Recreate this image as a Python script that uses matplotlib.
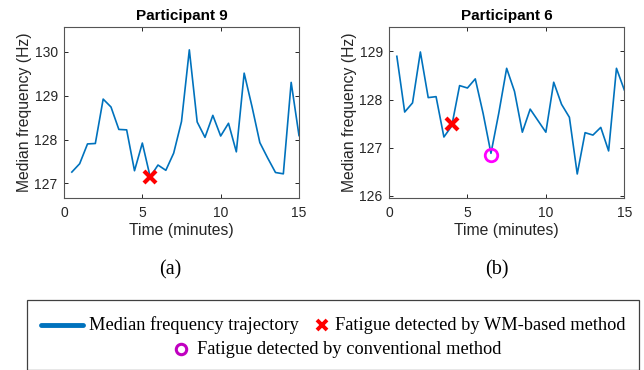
import matplotlib
matplotlib.use("Agg")
import matplotlib.pyplot as plt
from matplotlib.lines import Line2D
from matplotlib.patches import Rectangle

# time axis (minutes), one value every 30 s
time_min = [0.5 * i for i in range(1, 31)]

# Participant 9
p9_freq = [127.26, 127.45, 127.90, 127.91, 128.92, 128.74, 128.23, 128.22, 127.29, 127.92,
           127.15, 127.42, 127.30, 127.69, 128.41, 130.04, 128.40, 128.05, 128.55, 128.08,
           128.37, 127.72, 129.51, 128.75, 127.93, 127.58, 127.25, 127.22, 129.30, 128.09]
p9_wm_time = [5.5]
p9_wm_freq = [127.15]

# Participant 6
p6_freq = [128.90, 127.74, 127.93, 128.99, 128.04, 128.06, 127.22, 127.45, 128.29, 128.24,
           128.43, 127.71, 126.88, 127.72, 128.65, 128.17, 127.32, 127.80, 127.56, 127.32,
           128.36, 127.90, 127.63, 126.45, 127.31, 127.26, 127.42, 126.93, 128.65, 128.20]
p6_wm_time = [4.0]
p6_wm_freq = [127.50]
p6_conv_time = [6.5]
p6_conv_freq = [126.85]

legend_labels = ["Median frequency trajectory",
                 "Fatigue detected by WM-based method",
                 "Fatigue detected by conventional method"]

BLUE = "#0072BD"
TXT = "#262626"
W, H = 644, 370

plt.rcParams["font.family"] = "Liberation Sans"
fig = plt.figure(figsize=(6.44, 3.70), dpi=100)


def fx(px):
    return px / W


def fy(py):
    return 1 - py / H


def make_axes(x0, x1, y0, y1):
    return fig.add_axes([fx(x0), fy(y1), (x1 - x0) / W, (y1 - y0) / H])


def style(ax, title, ylim, yticks):
    ax.set_xlim(0, 15)
    ax.set_ylim(*ylim)
    ax.set_xticks([0, 5, 10, 15])
    ax.set_yticks(yticks)
    ax.set_title(title, fontsize=11, fontweight="bold", pad=5)
    ax.set_xlabel("Time (minutes)", fontsize=11.3, color=TXT, labelpad=2)
    ax.set_ylabel("Median frequency (Hz)", fontsize=11.3, color=TXT, labelpad=2)
    ax.tick_params(direction="in", length=3, width=0.7, labelsize=10,
                   colors=TXT, top=True, right=True)
    ax.tick_params(axis="x", pad=6)
    ax.tick_params(axis="y", pad=4.5)
    for s in ax.spines.values():
        s.set_color("#555555")
        s.set_linewidth(0.8)


ax1 = make_axes(64, 299, 27, 198)
ax1.plot(time_min, p9_freq, color=BLUE, lw=1.2)
ax1.plot(p9_wm_time, p9_wm_freq, "x", color="red", ms=8, mew=3)
style(ax1, "Participant 9", (126.67, 130.56), [127, 128, 129, 130])

ax2 = make_axes(389, 624.3, 27, 198)
ax2.plot(time_min, p6_freq, color=BLUE, lw=1.2)
ax2.plot(p6_wm_time, p6_wm_freq, "x", color="red", ms=8, mew=3)
ax2.plot(p6_conv_time, p6_conv_freq, "o", mfc="none", mec="magenta", ms=9, mew=2)
style(ax2, "Participant 6", (125.95, 129.51), [126, 127, 128, 129])

fig.text(fx(170), fy(270), "(a)", ha="center", va="center",
         family="Liberation Serif", fontsize=14.5)
fig.text(fx(496.5), fy(270), "(b)", ha="center", va="center",
         family="Liberation Serif", fontsize=14.5)

# legend box, drawn by hand so the second row can be centred
fig.add_artist(Rectangle((fx(27), 0), (639 - 27) / W, fy(300),
                         transform=fig.transFigure, fill=False,
                         edgecolor="#404040", lw=0.9))

row1, row2 = fy(325), fy(349)
fig.add_artist(Line2D([fx(41), fx(83)], [row1, row1], transform=fig.transFigure,
                      color=BLUE, lw=3.5, solid_capstyle="round"))
fig.add_artist(Line2D([fx(322)], [row1], transform=fig.transFigure, ls="none",
                      marker="x", color="red", ms=7, mew=2.8))
fig.add_artist(Line2D([fx(181)], [row2], transform=fig.transFigure, ls="none",
                      marker="o", mfc="none", mec="#C000C0", ms=7.5, mew=2.2))

leg_kw = dict(ha="left", va="center", family="Liberation Serif", fontsize=13.2)
fig.text(fx(89), row1, legend_labels[0], **leg_kw)
fig.text(fx(335), row1, legend_labels[1], **leg_kw)
fig.text(fx(197), row2, legend_labels[2], **leg_kw)

fig.savefig("out.png", dpi=100)
